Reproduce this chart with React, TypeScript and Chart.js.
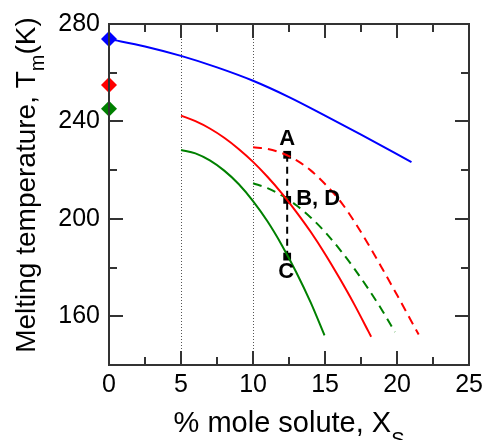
import React, { useEffect, useRef } from 'react';
import { Chart, registerables } from 'chart.js';

Chart.register(...registerables);

const FONT = '"Liberation Sans", Arial, Helvetica, sans-serif';

// Axes
const xTicks = [0, 5, 10, 15, 20, 25];
const xMinorTicks = [2.5, 7.5, 12.5, 17.5, 22.5];
const yTicks = [160, 200, 240, 280];
const yMinorTicks = [180, 220, 260];
const guideLinesX = [5, 10];

// Series
const blueX = [0, 2.5, 5, 7.5, 10, 12.5, 15, 17.5, 21];
const blueY = [273.8, 270.8, 266.9, 262.2, 256.7, 250.0, 242.4, 234.6, 223.3];

const redSolidX = [5, 6, 7, 8, 9, 10, 11, 12, 13, 14, 15, 16, 17, 18, 18.2];
const redSolidY = [242.4, 240.1, 237.1, 233.3, 228.7, 223.4, 217.3, 210.5, 202.9, 194.7, 185.6, 175.7, 165.2, 153.9, 151.6];

const greenSolidX = [5, 6, 7, 8, 9, 10, 11, 12, 13, 14, 14.96];
const greenSolidY = [228.3, 226.9, 224.0, 219.8, 214.3, 207.3, 199.0, 189.2, 178.1, 165.7, 152.2];

const redDashX = [10, 11, 12, 13, 14, 15, 16, 17, 18, 19, 20, 21, 21.5];
const redDashY = [229.4, 228.7, 227.0, 224.1, 219.9, 214.3, 207.7, 199.2, 189.6, 179.3, 168.7, 157.9, 152.5];

const greenDashX = [10, 11, 12, 13, 14, 15, 16, 17, 18, 19, 19.85];
const greenDashY = [214.6, 212.6, 209.6, 205.6, 200.6, 194.6, 187.6, 179.8, 171.3, 162.1, 153.5];

const pureX = [0, 0, 0];
const pureY = [273.8, 255, 245.2];
const pureColors = ['#0000ff', '#ff0000', '#008000'];

const pointLabels = ['A', 'B, D', 'C'];
const pointX = [12.37, 12.37, 12.37];
const pointY = [226.3, 207.8, 184.5];

const zip = (xs: number[], ys: number[]) => xs.map((x, i) => ({ x, y: ys[i] }));

const FRAME_COLOR = '#333';

const decor = {
  id: 'decor',
  beforeDatasetsDraw(chart: any) {
    const { ctx, chartArea: a, scales } = chart;
    const x = scales.x;
    ctx.save();
    ctx.strokeStyle = '#555';
    ctx.lineWidth = 1;
    ctx.setLineDash([1, 2]);
    guideLinesX.forEach((v) => {
      const px = Math.round(x.getPixelForValue(v)) + 0.5;
      ctx.beginPath();
      ctx.moveTo(px, a.top);
      ctx.lineTo(px, a.bottom);
      ctx.stroke();
    });
    ctx.restore();
  },
  afterDraw(chart: any) {
    const { ctx, chartArea: a, scales } = chart;
    const x = scales.x;
    const y = scales.y;
    const L = Math.round(a.left);
    const R = Math.round(a.right);
    const T = Math.round(a.top);
    const B = Math.round(a.bottom);
    ctx.save();
    ctx.setLineDash([]);
    ctx.fillStyle = FRAME_COLOR;
    // frame (2px)
    ctx.fillRect(L - 1, T - 1, R - L + 2, 2);
    ctx.fillRect(L - 1, B - 1, R - L + 2, 2);
    ctx.fillRect(L - 1, T - 1, 2, B - T + 2);
    ctx.fillRect(R - 1, T - 1, 2, B - T + 2);
    // ticks (inward)
    const MAJ = 14;
    const MIN = 8;
    const vTick = (px: number, len: number) => {
      ctx.fillRect(px - 1, B - len, 2, len);
      ctx.fillRect(px - 1, T, 2, len);
    };
    const hTick = (py: number, len: number) => {
      ctx.fillRect(L, py - 1, len, 2);
      ctx.fillRect(R - len, py - 1, len, 2);
    };
    xTicks.forEach((v) => vTick(Math.round(x.getPixelForValue(v)), MAJ));
    xMinorTicks.forEach((v) => vTick(Math.round(x.getPixelForValue(v)), MIN));
    yTicks.forEach((v) => hTick(Math.round(y.getPixelForValue(v)), MAJ));
    yMinorTicks.forEach((v) => hTick(Math.round(y.getPixelForValue(v)), MIN));

    // point labels
    ctx.fillStyle = '#000';
    ctx.font = `bold 22px ${FONT}`;
    ctx.textBaseline = 'alphabetic';
    pointLabels.forEach((t, i) => {
      const px = x.getPixelForValue(pointX[i]);
      const py = y.getPixelForValue(pointY[i]);
      if (i === 0) {
        ctx.textAlign = 'center';
        ctx.fillText(t, px, py - 10);
      } else if (i === 1) {
        ctx.textAlign = 'left';
        ctx.fillText(t, px + 9, py + 5);
      } else {
        ctx.textAlign = 'center';
        ctx.fillText(t, px - 1, py + 21);
      }
    });

    // x title
    const mainX = '% mole solute, X';
    const subX = 'S';
    ctx.font = `29px ${FONT}`;
    const wMainX = ctx.measureText(mainX).width;
    ctx.font = `20px ${FONT}`;
    const wSubX = ctx.measureText(subX).width;
    const cx = (a.left + a.right) / 2;
    const sx = cx - (wMainX + wSubX) / 2;
    ctx.textAlign = 'left';
    ctx.font = `29px ${FONT}`;
    ctx.fillText(mainX, sx, 432);
    ctx.font = `20px ${FONT}`;
    ctx.fillText(subX, sx + wMainX, 446);

    // y title (rotated)
    const p1 = 'Melting temperature, T';
    const p2 = 'm';
    const p3 = '(K)';
    ctx.font = `28px ${FONT}`;
    const w1 = ctx.measureText(p1).width;
    const w3 = ctx.measureText(p3).width;
    ctx.font = `20px ${FONT}`;
    const w2 = ctx.measureText(p2).width;
    const total = w1 + w2 + w3;
    ctx.translate(35, 185);
    ctx.rotate(-Math.PI / 2);
    let s = -total / 2;
    ctx.font = `28px ${FONT}`;
    ctx.fillText(p1, s, 0);
    s += w1;
    ctx.font = `20px ${FONT}`;
    ctx.fillText(p2, s, 9);
    s += w2;
    ctx.font = `28px ${FONT}`;
    ctx.fillText(p3, s, 0);
    ctx.restore();
  },
};

export default function App() {
  const ref = useRef<HTMLCanvasElement>(null);
  useEffect(() => {
    if (!ref.current) return;
    const lineDs = (xs: number[], ys: number[], color: string, dash: number[] = []) => ({
      data: zip(xs, ys),
      borderColor: color,
      backgroundColor: color,
      borderWidth: 2,
      borderDash: dash,
      pointRadius: 0,
      cubicInterpolationMode: 'monotone',
      fill: false,
    });
    const chart = new Chart(ref.current, {
      type: 'line',
      data: {
        datasets: [
          lineDs(blueX, blueY, '#0000ff'),
          lineDs(redSolidX, redSolidY, '#ff0000'),
          lineDs(greenSolidX, greenSolidY, '#008000'),
          lineDs(redDashX, redDashY, '#ff0000', [9, 6]),
          lineDs(greenDashX, greenDashY, '#008000', [9, 6]),
          {
            data: zip([pointX[0], pointX[2]], [pointY[0], pointY[2]]),
            borderColor: '#000',
            borderWidth: 2,
            borderDash: [7, 5],
            pointRadius: 0,
            fill: false,
          },
          {
            data: zip(pointX, pointY),
            showLine: false,
            pointStyle: 'rect',
            pointRadius: 5.5,
            pointBackgroundColor: '#000',
            pointBorderColor: '#000',
            pointBorderWidth: 0,
          },
          {
            data: zip(pureX, pureY),
            showLine: false,
            pointStyle: 'rectRot',
            pointRadius: 8,
            pointBackgroundColor: pureColors,
            pointBorderColor: pureColors,
            pointBorderWidth: 0,
            clip: false,
          },
        ] as any,
      },
      options: {
        animation: false,
        responsive: false,
        events: [],
        layout: { padding: { left: 0, right: 18, top: 23, bottom: 0 } },
        plugins: { legend: { display: false }, tooltip: { enabled: false } },
        scales: {
          x: {
            type: 'linear',
            min: 0,
            max: 25,
            afterBuildTicks: (s: any) => {
              s.ticks = xTicks.map((v) => ({ value: v }));
            },
            afterFit: (s: any) => {
              s.height = 75;
            },
            grid: { display: false, drawTicks: false },
            border: { display: false },
            ticks: {
              color: '#000',
              font: { family: FONT, size: 25 },
              padding: 5,
              maxRotation: 0,
              autoSkip: false,
            },
          },
          y: {
            type: 'linear',
            min: 140,
            max: 280,
            afterBuildTicks: (s: any) => {
              s.ticks = yTicks.map((v) => ({ value: v }));
            },
            afterFit: (s: any) => {
              s.width = 109;
            },
            grid: { display: false, drawTicks: false },
            border: { display: false },
            ticks: {
              color: '#000',
              font: { family: FONT, size: 25 },
              padding: 9,
              autoSkip: false,
            },
          },
        },
      } as any,
      plugins: [decor],
    });
    return () => chart.destroy();
  }, []);
  return (
    <div style={{ position: 'fixed', left: 0, top: 0, width: 488, height: 440, background: '#fff' }}>
      <canvas ref={ref} width={488} height={440} />
    </div>
  );
}
